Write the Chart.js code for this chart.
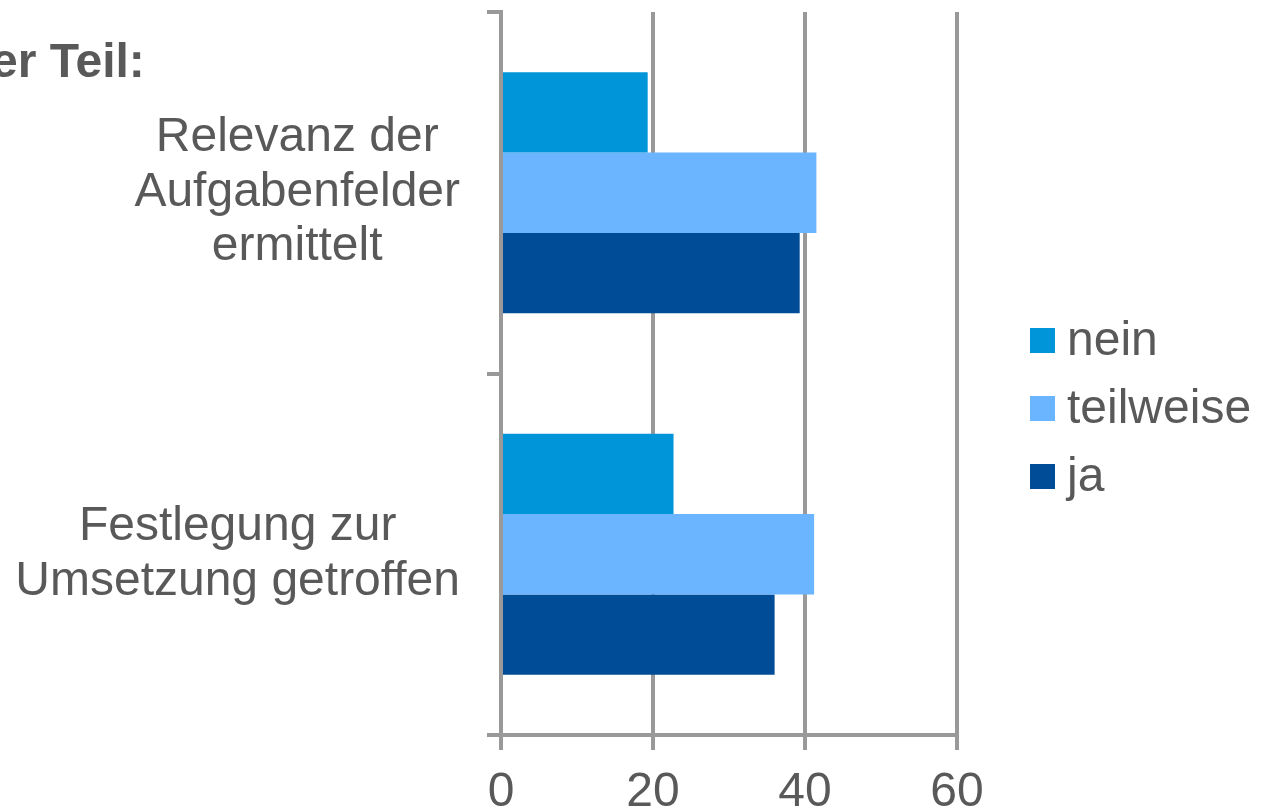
<!DOCTYPE html>
<html>
<head>
<meta charset="utf-8">
<script src="https://cdn.jsdelivr.net/npm/chart.js@4.4.1/dist/chart.umd.min.js"></script>
<style>
  body { margin: 0; background: #fff; }
  #wrap { width: 1266px; height: 812px; position: relative; }
</style>
</head>
<body>
<div id="wrap"><canvas id="barChart" width="1266" height="812"></canvas></div>
<script>
// data
var categories = [
  ['Relevanz der', 'Aufgabenfelder', 'ermittelt'],
  ['Festlegung zur', 'Umsetzung getroffen']
];
var seriesNames = ['nein', 'teilweise', 'ja'];
var neinValues = [19.3, 22.7];
var teilweiseValues = [41.5, 41.2];
var jaValues = [39.3, 36.0];
var xTicks = [0, 20, 40, 60];
var titleText = 'er Teil:';

var colors = ['#0095d9', '#6bb4ff', '#004c96'];
var gray = '#999999';
var textColor = '#595959';
var font = 'Liberation Sans, Arial, sans-serif';

// category labels, each block centred on itself and right aligned
var catLabels = {
  id: 'catLabels',
  afterDraw: function(chart) {
    var ctx = chart.ctx;
    var y = chart.scales.y;
    ctx.save();
    ctx.font = '48px ' + font;
    ctx.fillStyle = textColor;
    ctx.textAlign = 'center';
    ctx.textBaseline = 'middle';
    var rightEdge = y.right - 41;
    var lh = 54.5;
    categories.forEach(function(lines, i) {
      var widest = 0;
      lines.forEach(function(l) { widest = Math.max(widest, ctx.measureText(l).width); });
      var cx = rightEdge - widest / 2;
      var cy = y.getPixelForValue(i);
      var start = cy - (lines.length - 1) * lh / 2;
      lines.forEach(function(l, j) { ctx.fillText(l, cx, start + j * lh); });
    });

    // title (cut at the left edge like the original)
    ctx.font = 'bold 48px ' + font;
    ctx.textAlign = 'left';
    ctx.textBaseline = 'alphabetic';
    ctx.fillText(titleText, -9, 77);
    ctx.restore();
  }
};

// legend on the right
var sideLegend = {
  id: 'sideLegend',
  afterDraw: function(chart) {
    var ctx = chart.ctx;
    var area = chart.chartArea;
    ctx.save();
    ctx.font = '48px ' + font;
    ctx.textBaseline = 'middle';
    ctx.textAlign = 'left';
    chart.data.datasets.forEach(function(ds, i) {
      var rowY = area.top + 328 + i * 68;
      ctx.fillStyle = ds.backgroundColor;
      ctx.fillRect(area.right + 73, rowY - 12, 25, 25);
      ctx.fillStyle = textColor;
      ctx.fillText(ds.label, area.right + 110, rowY + 2);
    });
    ctx.restore();
  }
};

new Chart('barChart', {
  type: 'bar',
  data: {
    labels: categories,
    datasets: [
      { label: seriesNames[0], data: neinValues, backgroundColor: colors[0] },
      { label: seriesNames[1], data: teilweiseValues, backgroundColor: colors[1] },
      { label: seriesNames[2], data: jaValues, backgroundColor: colors[2] }
    ]
  },
  options: {
    indexAxis: 'y',
    responsive: false,
    animation: false,
    layout: { padding: { left: 487, right: 309, top: 12, bottom: 0 } },
    plugins: {
      legend: { display: false },
      tooltip: { enabled: false }
    },
    datasets: {
      bar: { categoryPercentage: 0.667, barPercentage: 1.0, borderWidth: 0 }
    },
    scales: {
      x: {
        min: 0,
        max: 60,
        afterBuildTicks: function(scale) {
          scale.ticks = xTicks.map(function(v) { return { value: v }; });
        },
        afterFit: function(scale) { scale.height = 77; },
        grid: { color: gray, lineWidth: 4, tickLength: 15, drawOnChartArea: true },
        border: { display: true, color: gray, width: 4 },
        ticks: { color: textColor, font: { family: font, size: 48 }, padding: 14 }
      },
      y: {
        grid: { color: gray, lineWidth: 4, tickLength: 14, drawOnChartArea: false, offset: true },
        border: { display: true, color: gray, width: 4 },
        ticks: { display: false }
      }
    }
  },
  plugins: [catLabels, sideLegend]
});
</script>
</body>
</html>
